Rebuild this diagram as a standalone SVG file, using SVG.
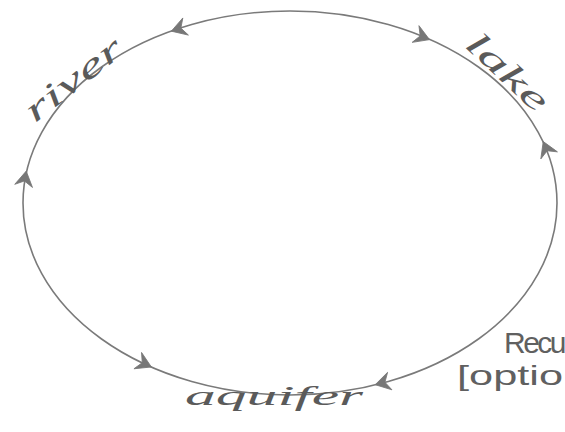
<svg xmlns="http://www.w3.org/2000/svg" width="565" height="432" viewBox="0 0 565 432">
<style>
.line{fill:none;stroke:#7a7a7a;stroke-width:1.6;stroke-linecap:round}
.head{fill:#777;stroke:#777;stroke-width:0.8;stroke-linejoin:round}
.cursive{font-family:"Liberation Serif",serif;font-style:italic;fill:#5a5a5a}
.print{font-family:"Liberation Sans",sans-serif;fill:#606060}
</style>
<defs>
<path id="ah" d="M7,0 L-8,-9 L-3,0 L-8,9 Z"/>
</defs>
<rect width="565" height="432" fill="#ffffff"/>
<g id="connectors">
<ellipse class="line" cx="290" cy="203" rx="267" ry="192"/>
<use href="#ah" class="head" transform="translate(178,29) rotate(162)"/>
<use href="#ah" class="head" transform="translate(25,178) rotate(-80)"/>
<use href="#ah" class="head" transform="translate(423,37) rotate(22)"/>
<use href="#ah" class="head" transform="translate(546,148) rotate(-113)"/>
<use href="#ah" class="head" transform="translate(145,364) rotate(25)"/>
<use href="#ah" class="head" transform="translate(382,383) rotate(166)"/>
</g>
<g id="river">
<text class="cursive" font-size="34" text-anchor="middle" textLength="115" lengthAdjust="spacingAndGlyphs" transform="translate(80,88) rotate(-38)">river</text>
</g>
<g id="lake">
<text class="cursive" font-size="34" text-anchor="middle" textLength="100" lengthAdjust="spacingAndGlyphs" transform="translate(500,80) rotate(43)">lake</text>
</g>
<g id="aquifer">
<text class="cursive" x="185" y="405" font-size="28" textLength="178" lengthAdjust="spacingAndGlyphs">aquifer</text>
</g>
<g id="note">
<text class="print" x="504" y="353" font-size="30" letter-spacing="-2.5">Recu</text>
<text class="print" x="457" y="385" font-size="28" textLength="106" lengthAdjust="spacingAndGlyphs">[optio</text>
</g>
</svg>
